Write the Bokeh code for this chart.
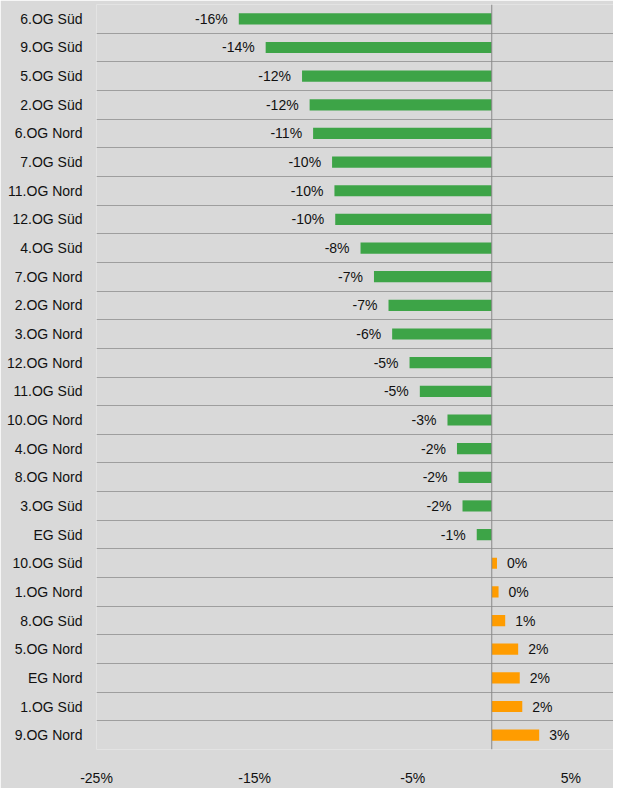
import math
from bokeh.plotting import figure
from bokeh.models import ColumnDataSource, Range1d, FixedTicker, Span
from bokeh.core.properties import value
from bokeh.embed import file_html
from bokeh.resources import INLINE

# ---- data (top to bottom) ----
categories = [
    "6.OG Süd", "9.OG Süd", "5.OG Süd", "2.OG Süd", "6.OG Nord", "7.OG Süd",
    "11.OG Nord", "12.OG Süd", "4.OG Süd", "7.OG Nord", "2.OG Nord", "3.OG Nord",
    "12.OG Nord", "11.OG Süd", "10.OG Nord", "4.OG Nord", "8.OG Nord", "3.OG Süd",
    "EG Süd", "10.OG Süd", "1.OG Nord", "8.OG Süd", "5.OG Nord", "EG Nord",
    "1.OG Süd", "9.OG Nord",
]
values = [
    -16.0, -14.3, -12.0, -11.52, -11.3, -10.1,
    -9.95, -9.9, -8.3, -7.45, -6.53, -6.3,
    -5.2, -4.55, -2.8, -2.2, -2.1, -1.85,
    -0.95, 0.33, 0.43, 0.85, 1.67, 1.77,
    1.93, 3.0,
]
x_ticks = [-25, -15, -5, 5]
x_tick_labels = ["-25%", "-15%", "-5%", "5%"]

GREEN = "#3DA447"
ORANGE = "#FF9C00"
BG = "#D9D9D9"


def fmt(v):
    r = int(math.floor(abs(v) + 0.5))
    return f"-{r}%" if (v < 0 and r != 0) else f"{r}%"


n = len(categories)
ypos = [n - i for i in range(n)]
colors = [GREEN if v < 0 else ORANGE for v in values]
labels = [fmt(v) for v in values]

src = ColumnDataSource(dict(y=ypos, v=values, c=colors, lab=labels))
neg = ColumnDataSource(dict(y=[y for y, v in zip(ypos, values) if v < 0],
                            v=[v for v in values if v < 0],
                            lab=[l for l, v in zip(labels, values) if v < 0]))
pos = ColumnDataSource(dict(y=[y for y, v in zip(ypos, values) if v >= 0],
                            v=[v for v in values if v >= 0],
                            lab=[l for l, v in zip(labels, values) if v >= 0]))

p = figure(width=613, height=788, output_backend="svg", toolbar_location=None,
           x_range=Range1d(-25, 7.7), y_range=Range1d(0.5, n + 0.5))
p.min_border_left = 96
p.min_border_right = 0
p.min_border_top = 4
p.min_border_bottom = 32
p.background_fill_color = BG
p.border_fill_color = BG
p.outline_line_color = None

p.hbar(y="y", right="v", left=0, height=0.39, color="c", source=src, line_color=None)

p.text(x="v", y="y", text="lab", source=neg, text_align="right", text_baseline="middle",
       x_offset=-11, text_font=value("Liberation Sans"), text_font_size="14px",
       text_color="#111111")
p.text(x="v", y="y", text="lab", source=pos, text_align="left", text_baseline="middle",
       x_offset=10, text_font=value("Liberation Sans"), text_font_size="14px",
       text_color="#111111")

p.add_layout(Span(location=0, dimension="height", line_color="#888888", line_width=1))

# axes
p.xaxis.ticker = FixedTicker(ticks=x_ticks)
p.xaxis.major_label_overrides = {t: l for t, l in zip(x_ticks, x_tick_labels)}
p.yaxis.ticker = FixedTicker(ticks=ypos)
p.yaxis.major_label_overrides = {y: c for y, c in zip(ypos, categories)}
for ax in (p.xaxis[0], p.yaxis[0]):
    ax.axis_line_color = None
    ax.major_tick_line_color = None
    ax.minor_tick_line_color = None
    ax.major_label_text_font = "Liberation Sans"
    ax.major_label_text_font_size = "14px"
    ax.major_label_text_color = "#111111"
p.yaxis.major_label_standoff = 8
p.xaxis.major_label_standoff = 14

p.xgrid.grid_line_color = None
p.ygrid.ticker = FixedTicker(ticks=[k + 0.5 for k in range(n)])
p.ygrid.grid_line_color = "#9E9E9E"
p.ygrid.grid_line_width = 1

open("out.html", "w").write(file_html(p, INLINE))
